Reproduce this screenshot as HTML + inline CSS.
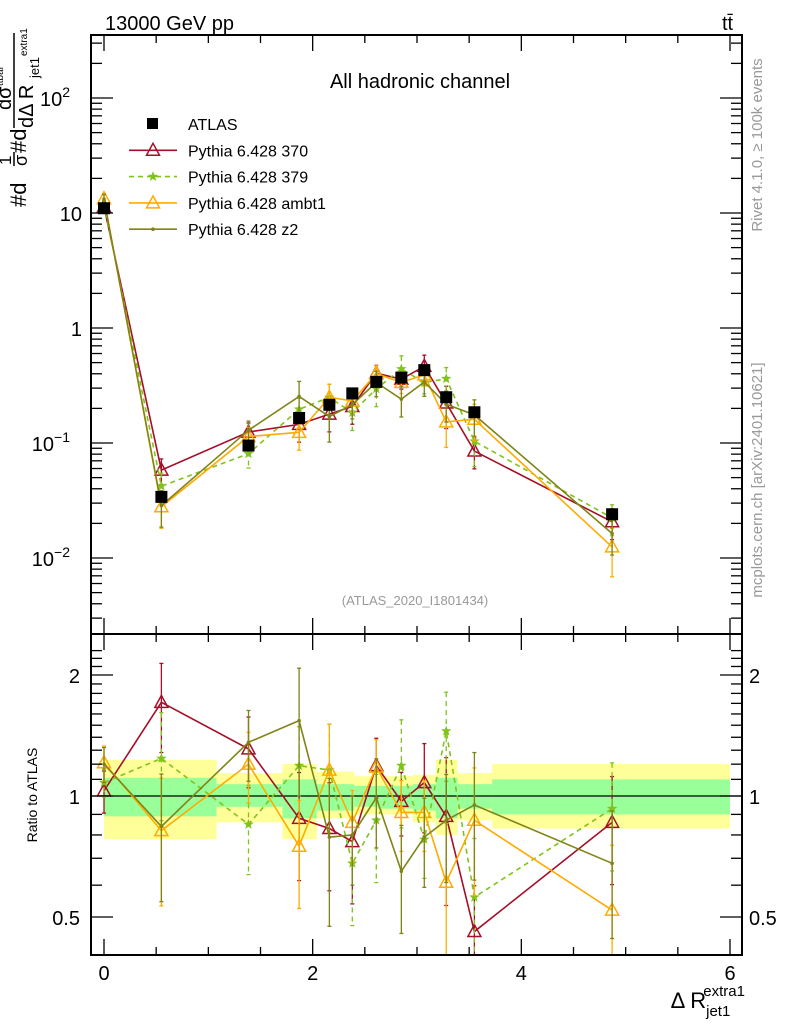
<!DOCTYPE html>
<html><head><meta charset="utf-8"><style>
html,body{margin:0;padding:0;background:#fff}
svg{display:block;font-family:"Liberation Sans",sans-serif}
</style></head><body>
<svg id="c" width="786" height="1024" viewBox="0 0 786 1024">
<rect x="0" y="0" width="786" height="1024" fill="#fff"/>
<g id="bands"></g>
<g id="marks"></g>
<g id="axes"></g>
<text x="105" y="30" font-size="20">13000 GeV pp</text>
<text x="722" y="30" font-size="20">tt̄</text>
<text x="420" y="88" font-size="20" text-anchor="middle">All hadronic channel</text>
<text x="415" y="605" font-size="13" fill="#999" text-anchor="middle">(ATLAS_2020_I1801434)</text>
<text transform="translate(762,145) rotate(-90)" font-size="15" fill="#999" text-anchor="middle">Rivet 4.1.0, ≥ 100k events</text>
<text transform="translate(762,480) rotate(-90)" font-size="15" fill="#999" text-anchor="middle">mcplots.cern.ch [arXiv:2401.10621]</text>
<g transform="rotate(-90)">
<text x="-207" y="26" font-size="22">#d</text>
<text x="-165" y="11" font-size="17">1</text>
<line x1="-166" x2="-152" y1="14" y2="14" stroke="#000" stroke-width="1.5"/>
<text x="-166" y="27" font-size="18">σ</text>
<text x="-153" y="26" font-size="22">#d</text>
<text x="-110" y="11" font-size="20">dσ</text>
<text x="-86" y="3" font-size="10">ttbar</text>
<line x1="-128" x2="-33" y1="14" y2="14" stroke="#000" stroke-width="1.5"/>
<text x="-128" y="33" font-size="20">dΔ R</text>
<text x="-78" y="39" font-size="13">jet1</text>
<text x="-56" y="27" font-size="10">extra1</text>
</g>
<text transform="translate(37,795) rotate(-90)" font-size="14" text-anchor="middle">Ratio to ATLAS</text>
<text x="745" y="1008" font-size="22" text-anchor="end">Δ R<tspan font-size="15" dy="8">jet1</tspan><tspan font-size="15" dx="-27" dy="-20">extra1</tspan></text>
<g id="legend"></g>
</svg>
<script>
const xs = [0.0,0.55,1.385,1.87,2.16,2.38,2.61,2.85,3.07,3.28,3.55,4.87];
const atlas = [11,0.034,0.095,0.165,0.215,0.27,0.34,0.37,0.43,0.25,0.185,0.024];
const r370 = [1.03,1.71,1.31,0.88,0.83,0.77,1.19,0.97,1.08,0.89,0.46,0.86];
const r379 = [1.08,1.24,0.85,1.19,1.16,0.68,0.87,1.19,0.78,1.45,0.56,0.93];
const rambt1 = [1.21,0.82,1.20,0.75,1.16,0.86,1.18,0.91,0.91,0.61,0.87,0.52];
const rz2 = [1.20,0.84,1.36,1.54,0.79,0.80,0.99,0.65,0.79,0.87,0.95,0.68];
const e370 = [0.12,0.25,0.2,0.3,0.3,0.3,0.17,0.18,0.25,0.4,0.3,0.3];
const e379 = [0.08,0.3,0.25,0.25,0.3,0.3,0.3,0.3,0.2,0.25,0.4,0.3];
const eambt1 = [0.1,0.35,0.2,0.3,0.3,0.2,0.17,0.2,0.2,0.4,0.35,0.45];
const ez2 = [0.1,0.35,0.2,0.35,0.4,0.25,0.25,0.3,0.25,0.3,0.35,0.35];
const bandEdges = [0,1.08,1.71,2.04,2.4,2.62,2.96,3.18,3.39,3.72,6.0];
const yelHi = [1.23,1.14,1.20,1.15,1.12,1.12,1.13,1.23,1.14,1.20];
const yelLo = [0.78,0.86,0.78,0.88,0.90,0.90,0.86,0.80,0.87,0.83];
const grnHi = [1.11,1.07,1.10,1.07,1.06,1.06,1.07,1.11,1.07,1.10];
const grnLo = [0.89,0.94,0.88,0.92,0.94,0.93,0.92,0.88,0.93,0.90];
const xTicks = [0,2,4,6];

const NS='http://www.w3.org/2000/svg';
const L=91,R=742,T=35,MB=634,B=955;
const X=v=>104+v*(730-104)/6;
const Y=v=>98-(Math.log10(v)-2)*115;
const YR=v=>796-Math.log2(v)*121;
function mk(tag,attrs,parent){const e=document.createElementNS(NS,tag);for(const k in attrs)e.setAttribute(k,attrs[k]);parent.appendChild(e);return e;}
const bands=document.getElementById('bands');
const marks=document.getElementById('marks');
const axes=document.getElementById('axes');

for(let i=0;i<yelHi.length;i++){
  const x0=X(bandEdges[i]),x1=X(bandEdges[i+1]);
  const y=mk('rect',{x:x0,y:YR(yelHi[i]),width:x1-x0,height:YR(yelLo[i])-YR(yelHi[i]),fill:'#ffff99'},bands);
  
  
  const g=mk('rect',{x:x0,y:YR(grnHi[i]),width:x1-x0,height:YR(grnLo[i])-YR(grnHi[i]),fill:'#99ff99'},bands);
  
  
}
mk('line',{x1:L,x2:R,y1:YR(1),y2:YR(1),stroke:'#000','stroke-width':1.3},bands);

const series=[
 {name:'pythia-370',r:r370,e:e370,col:'#a50f28',dash:'',m:'tri'},
 {name:'pythia-379',r:r379,e:e379,col:'#7fc31c',dash:'5,4',m:'star'},
 {name:'pythia-ambt1',r:rambt1,e:eambt1,col:'#ffab00',dash:'',m:'tri'},
 {name:'pythia-z2',r:rz2,e:ez2,col:'#7f8416',dash:'',m:'dot'}
];
function marker(m,x,y,col,p){
  if(m==='tri') return mk('path',{d:`M${x},${y-7}L${x+6.5},${y+5}L${x-6.5},${y+5}Z`,fill:'none',stroke:col,'stroke-width':1.5},p);
  if(m==='star'){let d='';for(let k=0;k<10;k++){const a=-Math.PI/2+k*Math.PI/5,rr=k%2?2.3:5.5;d+=(k?'L':'M')+(x+rr*Math.cos(a)).toFixed(1)+','+(y+rr*Math.sin(a)).toFixed(1);}return mk('path',{d:d+'Z',fill:col},p);}
  return mk('circle',{cx:x,cy:y,r:1.8,fill:col},p);
}
function clipY(y,top,bot){return Math.max(top,Math.min(bot,y));}
series.forEach(s=>{
  const g=mk('g',{},marks);
  
  
  const ptsM=[],ptsR=[];
  xs.forEach((x,i)=>{
    const v=s.r[i]*atlas[i];
    const px=X(x),py=Y(v),pr=YR(s.r[i]);
    ptsM.push(px+','+py);ptsR.push(px+','+pr);
    const e=s.e[i];
    const a=mk('line',{x1:px,x2:px,y1:Y(v*(1+e)),y2:Y(v*(1-e)),stroke:s.col,'stroke-width':1.3,'stroke-dasharray':s.dash},g);
    
    
    mk('line',{x1:px,x2:px,y1:clipY(YR(s.r[i]*(1+e)),MB,B),y2:clipY(YR(s.r[i]*(1-e)),MB,B),stroke:s.col,'stroke-width':1.3,'stroke-dasharray':s.dash},g);
    [Y(v*(1+e)),Y(v*(1-e)),clipY(YR(s.r[i]*(1+e)),MB,B),clipY(YR(s.r[i]*(1-e)),MB,B)].forEach(yy=>mk('line',{x1:px-2,x2:px+2,y1:yy,y2:yy,stroke:s.col,'stroke-width':1.3},g));
  });
  mk('polyline',{points:ptsM.join(' '),fill:'none',stroke:s.col,'stroke-width':1.6,'stroke-dasharray':s.dash},g);
  mk('polyline',{points:ptsR.join(' '),fill:'none',stroke:s.col,'stroke-width':1.6,'stroke-dasharray':s.dash},g);
  xs.forEach((x,i)=>{
    const m1=marker(s.m,X(x),Y(s.r[i]*atlas[i]),s.col,g);
    
    
    const m2=marker(s.m,X(x),YR(s.r[i]),s.col,g);
    
    
  });
});
const dg=mk('g',{},marks);


xs.forEach((x,i)=>{
  const p=mk('rect',{x:X(x)-6,y:Y(atlas[i])-6,width:12,height:12,fill:'#000'},dg);
  
  
});

mk('rect',{x:L,y:T,width:R-L,height:MB-T,fill:'none',stroke:'#000','stroke-width':2},axes);
mk('rect',{x:L,y:MB,width:R-L,height:B-MB,fill:'none',stroke:'#000','stroke-width':2},axes);
for(let v=0;v<=6.01;v+=0.5){
  const big=Math.abs(v-Math.round(v/2)*2)<1e-6;const len=big?16:8;
  [[T,1],[MB,-1],[MB,1],[B,-1]].forEach(([y0,d])=>mk('line',{x1:X(v),x2:X(v),y1:y0,y2:y0+d*len,stroke:'#000','stroke-width':1.3},axes));
}
xTicks.forEach(v=>{const t=mk('text',{x:X(v),y:980,'font-size':20,'text-anchor':'middle'},axes);t.textContent=v;
 });
for(let d=-3;d<=2;d++){for(let k=1;k<=9;k++){const v=k*Math.pow(10,d);const y=Y(v);if(y<T||y>MB)continue;
 const len=k===1?22:11;mk('line',{x1:L,x2:L+len,y1:y,y2:y,stroke:'#000','stroke-width':1.3},axes);mk('line',{x1:R,x2:R-len,y1:y,y2:y,stroke:'#000','stroke-width':1.3},axes);}}
const ylab=[[100,'10','2'],[10,'10',''],[1,'1',''],[0.1,'10','−1'],[0.01,'10','−2']];
ylab.forEach(([v,b,e])=>{const t=mk('text',{x:e?70:82,y:Y(v)+8,'font-size':20,'text-anchor':'end'},axes);t.textContent=b;
 
 if(e){const s=mk('tspan',{'font-size':14,dy:-9},t);s.textContent=e;}});
for(let v=0.4;v<=2.31;v+=0.1){const y=YR(v);if(y<MB||y>B)continue;const big=[0.5,1,2].some(q=>Math.abs(q-v)<1e-6);const len=big?22:11;
 mk('line',{x1:L,x2:L+len,y1:y,y2:y,stroke:'#000','stroke-width':1.3},axes);mk('line',{x1:R,x2:R-len,y1:y,y2:y,stroke:'#000','stroke-width':1.3},axes);}
[[2,'2'],[1,'1'],[0.5,'0.5']].forEach(([v,s])=>{
 const t=mk('text',{x:80,y:YR(v)+8,'font-size':20,'text-anchor':'end'},axes);t.textContent=s;
 
 const t2=mk('text',{x:749,y:YR(v)+8,'font-size':20},axes);t2.textContent=s;
 });
const lg=document.getElementById('legend');
const lent=[['ATLAS',null],['Pythia 6.428 370',series[0]],['Pythia 6.428 379',series[1]],['Pythia 6.428 ambt1',series[2]],['Pythia 6.428 z2',series[3]]];
lent.forEach(([lab,s],i)=>{const y=124+i*26.3;const g=mk('g',{},lg);
 
 if(!s){mk('rect',{x:147,y:y-6,width:11,height:11,fill:'#000'},g);}
 else{mk('line',{x1:129,x2:177,y1:y,y2:y,stroke:s.col,'stroke-width':1.6,'stroke-dasharray':s.dash},g);marker(s.m,153,y,s.col,g);}
 const t=mk('text',{x:188,y:y+6,'font-size':16},g);t.textContent=lab;});
</script>
</body></html>
